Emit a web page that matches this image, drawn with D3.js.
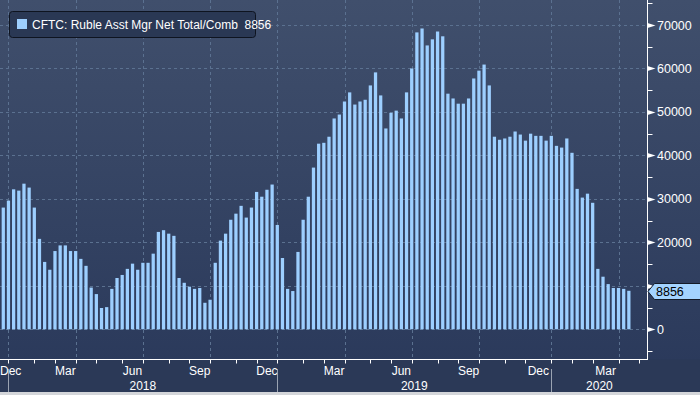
<!DOCTYPE html>
<html>
<head>
<meta charset="utf-8">
<script src="https://cdn.jsdelivr.net/npm/d3@7"></script>
<style>
  html, body { margin: 0; padding: 0; background: #2b3957; }
  svg { display: block; }
  text { font-family: "Liberation Sans", Arial, sans-serif; }
</style>
</head>
<body>
<div id="chart"></div>
<script>
// weekly CFTC report dates (Tuesdays), first one 2017-12-26
const firstWeek = new Date(Date.UTC(2017, 11, 26));
const seriesName = "CFTC: Ruble Asst Mgr Net Total/Comb";
const lastLabel = "8856";

// net positions
const netValues = [
  28000, 29600, 32200, 31900, 33500, 32600, 28000, 20800, 15500, 13700,
  18000, 19300, 19300, 18000, 18000, 16200, 14600, 9600, 8100, 4900,
  5100, 9300, 11800, 12500, 13900, 15100, 13700, 15300, 15300, 17400,
  22400, 22800, 22000, 21500, 11800, 10700, 9800, 9300, 9500, 6100,
  6800, 15300, 20400, 22000, 25200, 26600, 28400, 25700, 28000, 31600,
  30500, 32100, 33300, 24000, 16400, 9300, 8800, 17800, 25200, 30500,
  37200, 42700, 42900, 44300, 48500, 49400, 52400, 54500, 51700, 52400,
  52800, 56100, 59100, 53800, 46200, 49800, 50300, 48500, 54500, 60000,
  68300, 69200, 65300, 66700, 68500, 67400, 54200, 53100, 51900, 51900,
  53100, 57700, 59500, 60900, 56100, 44300, 43600, 43900, 44300, 45500,
  44800, 43400, 45000, 44500, 44500, 43400, 44500, 42200, 41800, 43900,
  40600, 32300, 30300, 31200, 29100, 13900, 12100, 10400, 9500, 9500,
  9300, 8856
];

const yTicks = [0, 10000, 20000, 30000, 40000, 50000, 60000, 70000];
const yMinorTicks = [-5000, 5000, 15000, 25000, 35000, 45000, 55000, 65000, 75000];
const quarterLabels = ["Mar", "Jun", "Sep", "Dec"];
const years = [2018, 2019, 2020];

const W = 700, H = 395;
const plotR = 647.5, plotB = 359.5;
const x0 = 0.7, step = 5.17;

// axis runs a few weeks past the last report
const axisWeeks = d3.utcTuesday.range(firstWeek, new Date(Date.UTC(2020, 4, 20)));
const data = netValues.map((v, i) => ({date: axisWeeks[i], value: v}));

const x = d3.scaleBand()
  .domain(axisWeeks)
  .range([x0, x0 + axisWeeks.length * step])
  .paddingInner(0.37)
  .paddingOuter(0.185);

const y = d3.scaleLinear()
  .domain([0, 70000])
  .range([329.3, 25]);

// centre of the first weekly slot on/after a date (works before the data too)
function cx(date) {
  const idx = d3.utcTuesday.count(firstWeek, d3.utcTuesday.ceil(date));
  return x0 + x.step() * (idx + 0.5);
}

const svg = d3.select("#chart").append("svg")
  .attr("width", W)
  .attr("height", H);

const defs = svg.append("defs");
const grad = defs.append("linearGradient")
  .attr("id", "bg").attr("x1", 0).attr("y1", 0).attr("x2", 0).attr("y2", 1);
grad.append("stop").attr("offset", "0%").attr("stop-color", "#404f6c");
grad.append("stop").attr("offset", "100%").attr("stop-color", "#29385a");

svg.append("rect")
  .attr("width", W).attr("height", H)
  .attr("fill", "url(#bg)");

svg.append("rect")
  .attr("x", 0).attr("y", plotB).attr("width", W).attr("height", H - plotB)
  .attr("fill", "#2b3957");

svg.append("rect")
  .attr("x", 0).attr("y", 392).attr("width", W).attr("height", 3)
  .attr("fill", "#d4d6da");

// horizontal grid
svg.append("g")
  .selectAll("line")
  .data(yTicks)
  .join("line")
    .attr("x1", 0).attr("x2", plotR)
    .attr("y1", d => Math.round(y(d)) + 0.5)
    .attr("y2", d => Math.round(y(d)) + 0.5)
    .attr("stroke", "#5b7190")
    .attr("stroke-dasharray", "3,3");

// vertical grid at quarter starts
const quarters = d3.utcMonth.every(3).range(new Date(Date.UTC(2018, 0, 1)), new Date(Date.UTC(2020, 4, 1)));
svg.append("g")
  .selectAll("line")
  .data(quarters)
  .join("line")
    .attr("x1", d => Math.round(cx(d)) + 0.5)
    .attr("x2", d => Math.round(cx(d)) + 0.5)
    .attr("y1", 0).attr("y2", plotB)
    .attr("stroke", "#5b7190")
    .attr("stroke-dasharray", "3,3");

// bars
svg.append("g")
  .selectAll("rect")
  .data(data)
  .join("rect")
    .attr("x", d => x(d.date))
    .attr("width", x.bandwidth())
    .attr("y", d => y(d.value))
    .attr("height", d => y(0) - y(d.value))
    .attr("fill", "#9dcfff");

const lastVal = netValues[netValues.length - 1];
const yLast = Math.round(y(lastVal)) + 0.5;

// right axis
const axisR = svg.append("g").attr("fill", "#ffffff");
axisR.append("line")
  .attr("x1", plotR).attr("x2", plotR).attr("y1", 0).attr("y2", plotB)
  .attr("stroke", "#ffffff");
axisR.selectAll(".minor")
  .data(yMinorTicks)
  .join("line")
    .attr("class", "minor")
    .attr("x1", plotR).attr("x2", plotR + 5)
    .attr("y1", d => Math.round(y(d)) + 0.5)
    .attr("y2", d => Math.round(y(d)) + 0.5)
    .attr("stroke", "#ffffff");
axisR.selectAll(".major")
  .data(yTicks)
  .join("path")
    .attr("class", "major")
    .attr("d", d => {
      const yy = Math.round(y(d)) + 0.5;
      return `M${plotR},${yy - 2.5}L${plotR + 8},${yy}L${plotR},${yy + 2.5}Z`;
    });
// labels hidden under the last-value callout are left out, as in the source
axisR.selectAll(".lbl")
  .data(yTicks.filter(d => Math.abs(y(d) - yLast) > 14))
  .join("text")
    .attr("class", "lbl")
    .attr("x", 657)
    .attr("y", d => y(d) + 4.5)
    .attr("font-size", 12.5)
    .text(d => d);

// last value callout
svg.append("path")
  .attr("d", `M${plotR + 0.5},${yLast}L${plotR + 7},${yLast - 8}L${W + 2},${yLast - 8}L${W + 2},${yLast + 8}L${plotR + 7},${yLast + 8}Z`)
  .attr("fill", "#a3d3ff")
  .attr("stroke", "#141b28");
svg.append("text")
  .attr("x", 656)
  .attr("y", yLast + 4.5)
  .attr("font-size", 12.5)
  .attr("fill", "#000000")
  .text(lastLabel);

// bottom axis
const axisB = svg.append("g");
axisB.append("line")
  .attr("x1", 0).attr("x2", plotR + 0.5).attr("y1", plotB).attr("y2", plotB)
  .attr("stroke", "#ffffff");

const months = d3.utcMonth.range(new Date(Date.UTC(2018, 0, 1)), new Date(Date.UTC(2020, 5, 1)));
axisB.selectAll(".mtick")
  .data(months.filter(d => cx(d) < plotR))
  .join("line")
    .attr("class", "mtick")
    .attr("x1", d => Math.round(cx(d)) + 0.5)
    .attr("x2", d => Math.round(cx(d)) + 0.5)
    .attr("y1", plotB).attr("y2", plotB + 4)
    .attr("stroke", "#ffffff");

const fmtMonth = d3.utcFormat("%b");
const labelMonths = d3.utcMonth.range(new Date(Date.UTC(2017, 11, 1)), new Date(Date.UTC(2020, 3, 1)))
  .filter(d => quarterLabels.includes(fmtMonth(d)));
axisB.selectAll(".mlbl")
  .data(labelMonths)
  .join("text")
    .attr("class", "mlbl")
    .attr("y", 375)
    .attr("font-size", 12)
    .attr("fill", "#ffffff")
    .attr("text-anchor", "middle")
    .text(d => fmtMonth(d))
    .each(function(d) {
      const c = (cx(d) + cx(d3.utcMonth.offset(d, 1))) / 2;
      const w = this.getComputedTextLength();
      d3.select(this).attr("x", Math.max(c, w / 2));
    });

// year separators and labels
axisB.selectAll(".ysep")
  .data(years)
  .join("line")
    .attr("class", "ysep")
    .attr("x1", d => Math.round(cx(new Date(Date.UTC(d, 0, 1)))) + 0.5)
    .attr("x2", d => Math.round(cx(new Date(Date.UTC(d, 0, 1)))) + 0.5)
    .attr("y1", 369).attr("y2", 392)
    .attr("stroke", "#9aa3b2");
axisB.selectAll(".ylbl")
  .data(years)
  .join("text")
    .attr("class", "ylbl")
    .attr("x", d => {
      const a = cx(new Date(Date.UTC(d, 0, 1)));
      const b = Math.min(cx(new Date(Date.UTC(d + 1, 0, 1))), plotR);
      return (a + b) / 2;
    })
    .attr("y", 390)
    .attr("font-size", 12)
    .attr("fill", "#ffffff")
    .attr("text-anchor", "middle")
    .text(d => d);

// legend
const legend = svg.append("g");
legend.append("rect")
  .attr("x", 9.5).attr("y", 11.5)
  .attr("width", 246).attr("height", 26)
  .attr("rx", 3)
  .attr("fill", "#2a3854")
  .attr("stroke", "#0e1420");
legend.append("rect")
  .attr("x", 17).attr("y", 19)
  .attr("width", 10).attr("height", 10)
  .attr("fill", "#9dcfff");
legend.append("text")
  .attr("x", 32).attr("y", 29)
  .attr("font-size", 12)
  .attr("fill", "#ffffff")
  .attr("xml:space", "preserve")
  .text(seriesName + "  " + lastLabel);
</script>
</body>
</html>
